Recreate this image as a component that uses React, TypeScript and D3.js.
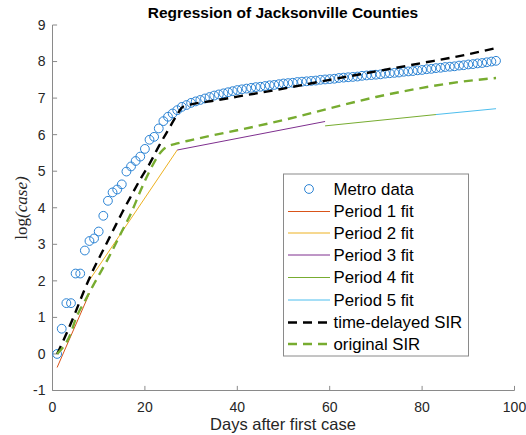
import React from "react";
import * as d3 from "d3";

const metroValues: number[] = [
  0, 0.69, 1.39, 1.39, 2.2, 2.2, 2.83, 3.09, 3.16, 3.35,
  3.78, 4.19, 4.42, 4.5, 4.64, 4.99, 5.13, 5.28, 5.4, 5.61,
  5.86, 5.94, 6.17, 6.37, 6.49, 6.58, 6.67, 6.76, 6.81, 6.87,
  6.91, 6.95, 6.99, 7.03, 7.07, 7.1, 7.13, 7.16, 7.19, 7.22,
  7.24, 7.26, 7.28, 7.3, 7.31, 7.33, 7.35, 7.36, 7.38, 7.4,
  7.41, 7.42, 7.44, 7.45, 7.46, 7.47, 7.48, 7.5, 7.51, 7.52,
  7.53, 7.55, 7.56, 7.57, 7.58, 7.59, 7.61, 7.62, 7.63, 7.64,
  7.65, 7.67, 7.68, 7.69, 7.7, 7.72, 7.73, 7.74, 7.76, 7.77,
  7.79, 7.8, 7.82, 7.83, 7.85, 7.86, 7.87, 7.89, 7.9, 7.92,
  7.93, 7.95, 7.96, 7.98, 8.0, 8.02,
];
const metroDays: number[] = metroValues.map((_, i) => i + 1);

const periodNames = ["Period 1 fit", "Period 2 fit", "Period 3 fit", "Period 4 fit", "Period 5 fit"];
const periodColors = ["#D95319", "#EDB120", "#7E2F8E", "#77AC30", "#4DBEEE"];
const periodDays: [number, number][] = [[1, 8], [8, 27], [27, 59], [59, 83], [83, 96]];
const periodValues: [number, number][] = [[-0.37, 1.66], [2.02, 5.58], [5.58, 6.36], [6.24, 6.55], [6.55, 6.71]];

const tdSirDays = [1, 3, 5, 7, 9, 11, 13, 15, 17, 19, 21, 23, 25, 27, 28, 29, 30, 35, 40, 50, 60, 70, 80, 90, 96];
const tdSirValues = [0.0, 0.55, 1.15, 1.78, 2.35, 2.85, 3.35, 3.85, 4.32, 4.78, 5.2, 5.68, 6.12, 6.55, 6.74, 6.8, 6.83, 6.93, 7.04, 7.26, 7.5, 7.73, 7.96, 8.2, 8.37];

const origSirDays = [1, 4, 5, 7, 9, 12, 15, 17, 19, 21, 23, 24, 25, 27, 30, 35, 40, 50, 60, 70, 80, 88, 96];
const origSirValues = [0.0, 0.58, 0.95, 1.45, 1.92, 2.6, 3.35, 3.85, 4.45, 5.0, 5.45, 5.6, 5.68, 5.76, 5.85, 5.99, 6.12, 6.4, 6.72, 7.03, 7.28, 7.44, 7.55];

const xTicks = [0, 20, 40, 60, 80, 100];
const yTicks = [-1, 0, 1, 2, 3, 4, 5, 6, 7, 8, 9];

const W = 526;
const H = 435;
const left = 52.5;
const right = 514.5;
const top = 25;
const bottom = 390.5;

export default function App() {
  const x = d3.scaleLinear().domain([0, 100]).range([left, right]);
  const y = d3.scaleLinear().domain([-1, 9]).range([bottom, top]);
  const line = d3
    .line<[number, number]>()
    .x((d) => x(d[0]))
    .y((d) => y(d[1]));
  const smooth = d3
    .line<[number, number]>()
    .x((d) => x(d[0]))
    .y((d) => y(d[1]))
    .curve(d3.curveMonotoneX);

  const tdPts = tdSirDays.map((d, i) => [d, tdSirValues[i]] as [number, number]);
  const osPts = origSirDays.map((d, i) => [d, origSirValues[i]] as [number, number]);

  const axisColor = "#8a8a8a";
  const textColor = "#262626";
  const sans = "'Liberation Sans', Arial, Helvetica, sans-serif";
  const dataColor = "#2b83d4";

  // legend
  const lx0 = 283.5, lx1 = 468.5, ly0 = 174, ly1 = 356;
  const rowY = [189, 211.5, 233, 255, 277.5, 300, 322.5, 344];
  const sx0 = 288, sx1 = 330, tx = 333.5;
  const legendFont = 16.8;

  return (
    <svg width={W} height={H} style={{ position: "absolute", left: 0, top: 0, background: "#fff" }}>
      <rect x={0} y={0} width={W} height={H} fill="#fff" />
      {/* axes */}
      <line x1={left} y1={top} x2={left} y2={bottom} stroke={axisColor} strokeWidth={1} />
      <line x1={left} y1={bottom} x2={right} y2={bottom} stroke={axisColor} strokeWidth={1} />
      {yTicks.map((t) => (
        <g key={"y" + t}>
          <line x1={left} x2={left + 4.6} y1={y(t)} y2={y(t)} stroke={axisColor} strokeWidth={1} />
          <text x={left - 7} y={y(t)} dy="0.35em" textAnchor="end" fontFamily={sans} fontSize={14} fill={textColor}>
            {t}
          </text>
        </g>
      ))}
      {xTicks.map((t) => (
        <g key={"x" + t}>
          <line x1={x(t)} x2={x(t)} y1={bottom} y2={bottom - 4.6} stroke={axisColor} strokeWidth={1} />
          <text x={x(t)} y={bottom + 17} dy="0.35em" textAnchor="middle" fontFamily={sans} fontSize={14} fill={textColor}>
            {t}
          </text>
        </g>
      ))}
      {/* period fits */}
      {periodDays.map((pd, i) => (
        <path
          key={"p" + i}
          d={line([[pd[0], periodValues[i][0]], [pd[1], periodValues[i][1]]]) || ""}
          fill="none"
          stroke={periodColors[i]}
          strokeWidth={1}
        />
      ))}
      {/* data */}
      {metroDays.map((d, i) => (
        <circle key={"m" + i} cx={x(d)} cy={y(metroValues[i])} r={4.4} fill="none" stroke={dataColor} strokeWidth={1} />
      ))}
      {/* SIR */}
      <path d={smooth(tdPts) || ""} fill="none" stroke="#000" strokeWidth={2.4} strokeDasharray="9,6" />
      <path d={smooth(osPts) || ""} fill="none" stroke="#77AC30" strokeWidth={2.4} strokeDasharray="9,6" />
      {/* title */}
      <text x={283} y={18} textAnchor="middle" fontFamily={sans} fontWeight="bold" fontSize={15.5} fill="#000">
        Regression of Jacksonville Counties
      </text>
      {/* axis labels */}
      <text x={283} y={430} textAnchor="middle" fontFamily={sans} fontSize={16.5} fill={textColor}>
        Days after first case
      </text>
      <text
        transform={`translate(27,208) rotate(-90)`}
        textAnchor="middle"
        fontFamily="'Liberation Serif', 'Times New Roman', serif"
        fontSize={17}
        fill={textColor}
      >
        log<tspan fontStyle="italic">(case)</tspan>
      </text>
      {/* legend */}
      <rect x={lx0} y={ly0} width={lx1 - lx0} height={ly1 - ly0} fill="#fff" stroke="#8a8a8a" strokeWidth={1} />
      <circle cx={309} cy={rowY[0]} r={4.4} fill="none" stroke={dataColor} strokeWidth={1} />
      <text x={tx} y={rowY[0]} dy="0.35em" fontFamily={sans} fontSize={legendFont} fill="#000">Metro data</text>
      {periodNames.map((n, i) => (
        <g key={"l" + i}>
          <line x1={sx0} x2={sx1} y1={rowY[i + 1]} y2={rowY[i + 1]} stroke={periodColors[i]} strokeWidth={1} />
          <text x={tx} y={rowY[i + 1]} dy="0.35em" fontFamily={sans} fontSize={legendFont} fill="#000">{n}</text>
        </g>
      ))}
      <line x1={sx0} x2={sx1} y1={rowY[6]} y2={rowY[6]} stroke="#000" strokeWidth={2.4} strokeDasharray="9,6" />
      <text x={tx} y={rowY[6]} dy="0.35em" fontFamily={sans} fontSize={legendFont} fill="#000">time-delayed SIR</text>
      <line x1={sx0} x2={sx1} y1={rowY[7]} y2={rowY[7]} stroke="#77AC30" strokeWidth={2.4} strokeDasharray="9,6" />
      <text x={tx} y={rowY[7]} dy="0.35em" fontFamily={sans} fontSize={legendFont} fill="#000">original SIR</text>
    </svg>
  );
}
